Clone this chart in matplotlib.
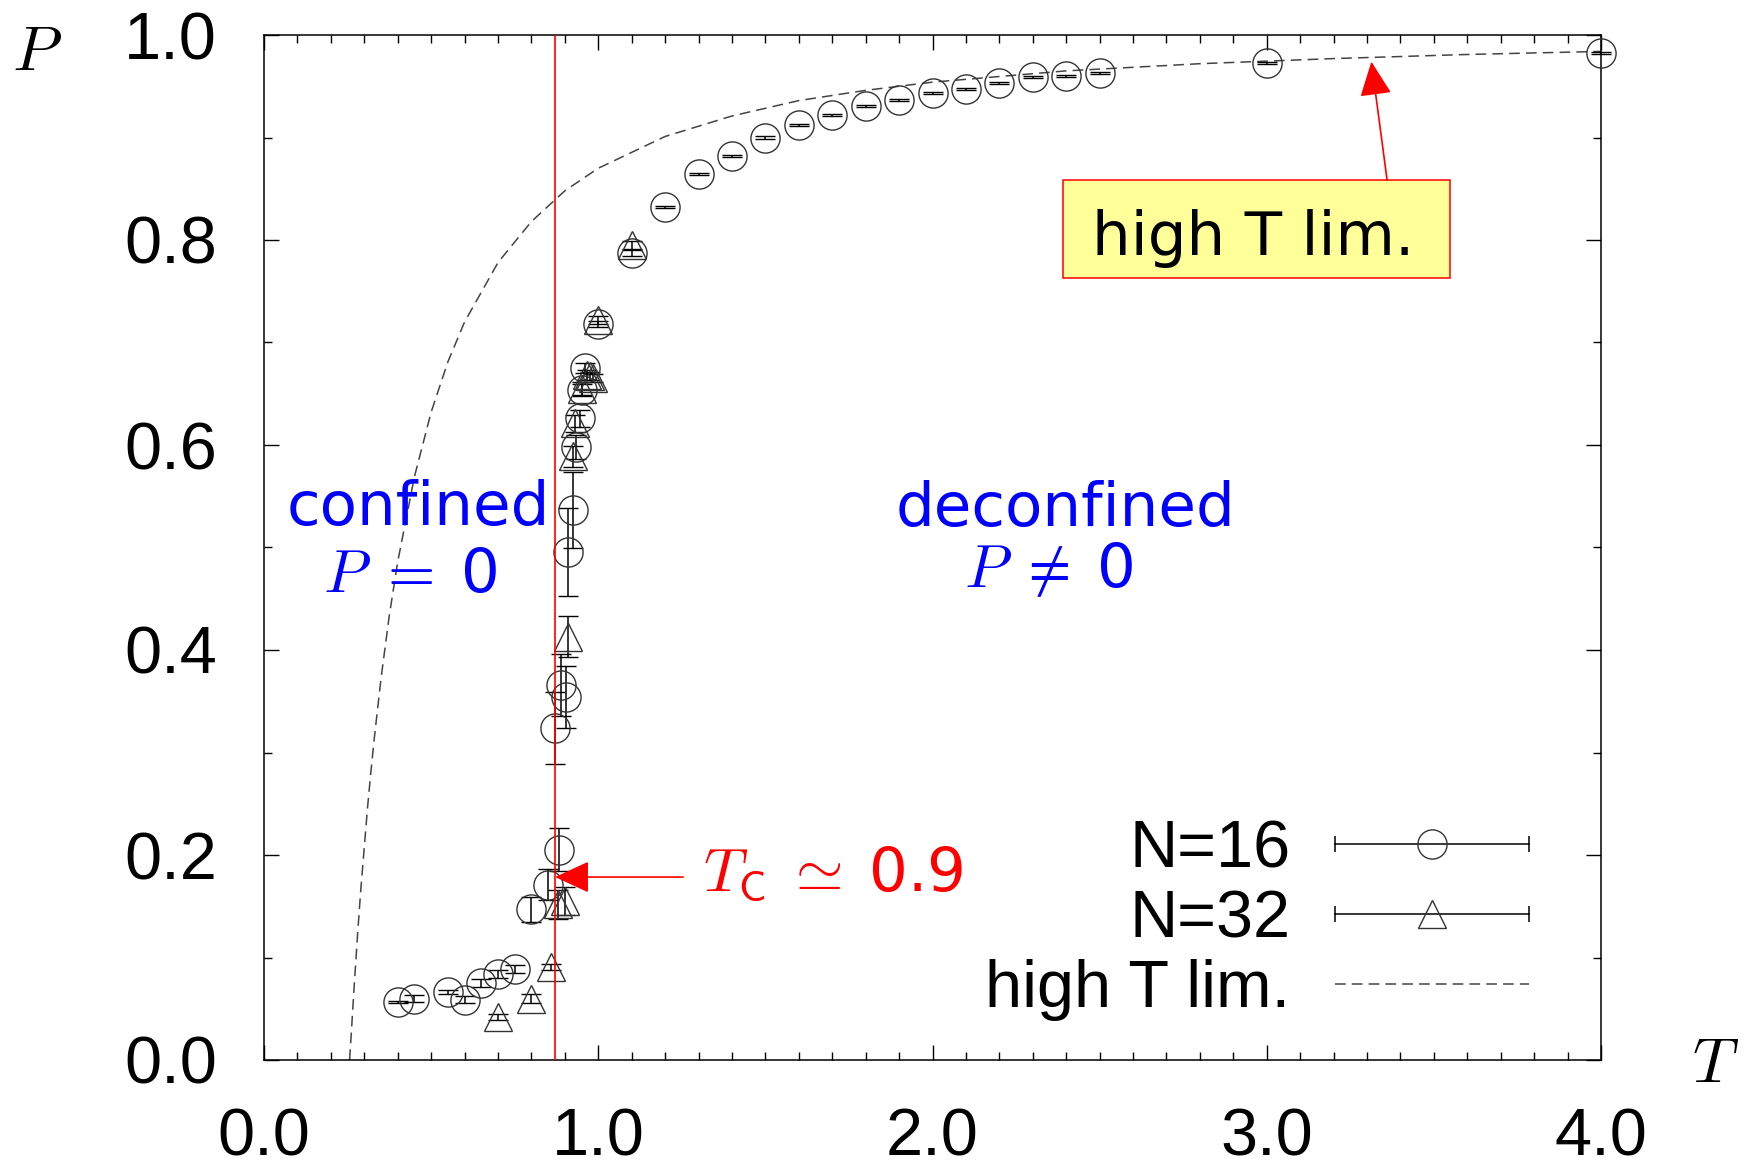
import matplotlib
matplotlib.use('Agg')
import matplotlib.pyplot as plt
from matplotlib.lines import Line2D
from matplotlib.legend_handler import HandlerLine2D
from matplotlib.patches import Rectangle
from matplotlib.ticker import MultipleLocator

plt.rcParams['mathtext.fontset'] = 'cm'
plt.rcParams['font.family'] = ['DejaVu Sans']

# ---------------- data ----------------
T16 = [0.40, 0.45, 0.55, 0.60, 0.65, 0.70, 0.75, 0.80, 0.85, 0.87, 0.883, 0.89, 0.903,
       0.91, 0.923, 0.933, 0.945, 0.95, 0.96, 1.00, 1.10, 1.20, 1.30, 1.40, 1.50, 1.60,
       1.70, 1.80, 1.90, 2.00, 2.10, 2.20, 2.30, 2.40, 2.50, 3.00, 4.00]
P16 = [0.057, 0.060, 0.066, 0.059, 0.075, 0.084, 0.089, 0.147, 0.171, 0.324, 0.205, 0.366, 0.354,
       0.496, 0.537, 0.598, 0.626, 0.654, 0.675, 0.718, 0.787, 0.832, 0.864, 0.882, 0.900, 0.912,
       0.922, 0.931, 0.937, 0.943, 0.947, 0.953, 0.959, 0.960, 0.963, 0.973, 0.982]
E16 = [0.001, 0.003, 0.002, 0.003, 0.004, 0.004, 0.004, 0.012, 0.015, 0.035, 0.021, 0.030, 0.030,
       0.043, 0.037, 0.012, 0.008, 0.006, 0.005, 0.003, 0.003, 0.001, 0.001, 0.001, 0.001, 0.001,
       0.001, 0.001, 0.001, 0.001, 0.001, 0.001, 0.001, 0.001, 0.001, 0.001, 0.001]

T32 = [0.70, 0.80, 0.86, 0.88, 0.90, 0.91, 0.925, 0.93, 0.95, 0.965, 0.975, 0.985, 1.00, 1.10]
P32 = [0.042, 0.060, 0.091, 0.152, 0.155, 0.413, 0.589, 0.621, 0.655, 0.668, 0.667, 0.665, 0.722, 0.795]
E32 = [0.003, 0.004, 0.003, 0.014, 0.014, 0.020, 0.010, 0.008, 0.006, 0.005, 0.004, 0.004, 0.004, 0.004]

T_LIM = [0.256, 0.26, 0.27, 0.28, 0.29, 0.31, 0.32, 0.33, 0.35, 0.375, 0.40, 0.45, 0.50, 0.55,
         0.60, 0.70, 0.80, 0.90, 1.00, 1.20, 1.40, 1.60, 1.80, 2.00, 2.40, 2.80, 3.20, 3.60, 4.00]
P_LIM = [0.000, 0.020, 0.073, 0.123, 0.168, 0.247, 0.282, 0.314, 0.372, 0.434, 0.486, 0.569, 0.632, 0.681,
         0.720, 0.778, 0.818, 0.848, 0.870, 0.901, 0.921, 0.936, 0.946, 0.954, 0.965, 0.972, 0.977, 0.981, 0.984]

TC_LINE = 0.871
X_TICKS = [0.0, 1.0, 2.0, 3.0, 4.0]
X_TICKLABELS = ['0.0', '1.0', '2.0', '3.0', '4.0']
Y_TICKS = [0.0, 0.2, 0.4, 0.6, 0.8, 1.0]
Y_TICKLABELS = ['0.0', '0.2', '0.4', '0.6', '0.8', '1.0']
LEGEND_LABELS = ['N=16', 'N=32', 'high T lim.']

# ---------------- figure ----------------
W, H = 1744, 1166
fig = plt.figure(figsize=(W / 100, H / 100), dpi=100)
ax = fig.add_axes([264 / W, 1 - 1060 / H, 1337 / W, 1025 / H])

ax.set_xlim(0, 4)
ax.set_ylim(0, 1)
ax.set_xticks(X_TICKS)
ax.set_xticklabels(X_TICKLABELS)
ax.set_yticks(Y_TICKS)
ax.set_yticklabels(Y_TICKLABELS)
ax.xaxis.set_minor_locator(MultipleLocator(0.1))
ax.yaxis.set_minor_locator(MultipleLocator(0.1))
ax.tick_params(which='both', direction='in', top=True, right=True, width=1.0, color='k')
ax.tick_params(which='major', length=10.8, pad=34, labelsize=48, labelfontfamily='Liberation Sans')
ax.tick_params(which='minor', length=5.8)
for s in ax.spines.values():
    s.set_linewidth(1.1)

mk = dict(mfc='none', mec='#333333', mew=1.0, ecolor='k', elinewidth=1.1,
          capsize=7, capthick=1.3, ls='none')
for T, P, E, m, s in [(T16, P16, E16, 'o', 21), (T32, P32, E32, '^', 20)]:
    cont = ax.errorbar(T, P, yerr=E, marker=m, ms=s, zorder=3, **mk)
    for art in cont.get_children():
        art.set_clip_on(False)

dash_style = (0, (7, 4))
ax.plot(T_LIM, P_LIM, ls=dash_style, color='#444444', lw=1.1, zorder=2)

ax.axvline(TC_LINE, color='red', lw=1.2, zorder=5)

# legend
bar1 = Line2D([], [], color='k', lw=1.1, marker='|', ms=12, mew=1.1)
bar2 = Line2D([], [], color='k', lw=1.1, marker='|', ms=12, mew=1.1)
circ = Line2D([], [], ls='none', marker='o', ms=21, mfc='none', mec='#333333', mew=1.0)
tri = Line2D([], [], ls='none', marker='^', ms=20, mfc='none', mec='#333333', mew=1.0)
dsh = Line2D([], [], color='#444444', lw=1.1, ls=dash_style)
ax.legend([(bar1, circ), (bar2, tri), dsh], LEGEND_LABELS,
          handler_map={bar1: HandlerLine2D(numpoints=2, marker_pad=0),
                       bar2: HandlerLine2D(numpoints=2, marker_pad=0)},
          loc='lower right', bbox_to_anchor=(0.946, 0.038), frameon=False,
          markerfirst=False, handlelength=2.9, handletextpad=0.68,
          labelspacing=0.12, borderpad=0, borderaxespad=0,
          prop={'family': 'Liberation Sans', 'size': 48})

# annotations
ax.text(0.461, 0.522, 'confined', color='blue', fontsize=44, ha='center', va='baseline')
ax.text(0.437, 0.4566, r'$P\;=\;$0', color='blue', fontsize=44, ha='center', va='baseline')
ax.text(2.398, 0.521, 'deconfined', color='blue', fontsize=44, ha='center', va='baseline')
ax.text(2.348, 0.4615, r'$P\;\neq\;$0', color='blue', fontsize=44, ha='center', va='baseline')

arrow_kw = dict(arrowstyle='-|>,head_length=1.08,head_width=0.5', color='red', lw=1.2,
                shrinkA=0, shrinkB=0, mutation_scale=20)
ax.annotate('', xy=(TC_LINE, 0.1785), xytext=(1.254, 0.1785), arrowprops=arrow_kw, zorder=6)
ax.text(1.313, 0.165, r'$T_\mathsf{C}\;\simeq\;$0.9', color='red', fontsize=44, ha='left', va='baseline')

ax.add_patch(Rectangle((2.390, 0.763), 3.548 - 2.390, 0.8585 - 0.763, facecolor='#ffff99',
                       edgecolor='red', lw=1.1, zorder=6))
ax.text(2.96, 0.785, 'high T lim.', color='k', fontsize=44, ha='center', va='baseline', zorder=7)
ax.annotate('', xy=(3.313, 0.974), xytext=(3.36, 0.8585), arrowprops=arrow_kw, zorder=6)

fig.text(37 / W, 1 - 52 / H, r'$P$', fontsize=46, ha='center', va='center')
fig.text(1716 / W, 1 - 1064 / H, r'$T$', fontsize=46, ha='center', va='center')

fig.savefig('out.png', dpi=100)
